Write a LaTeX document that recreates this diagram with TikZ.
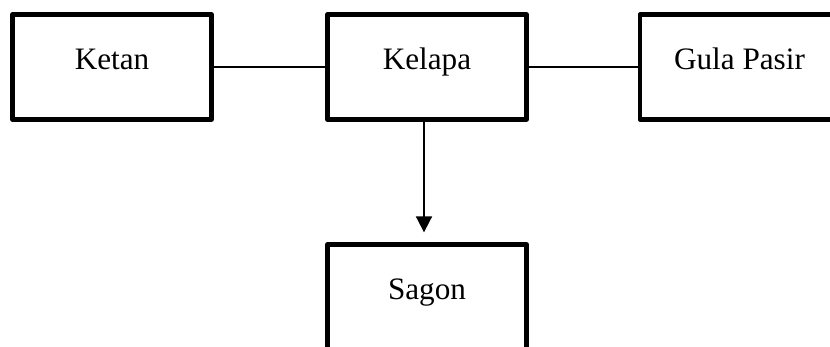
\documentclass[tikz,border=0pt]{standalone}
\usepackage{fontspec}
\setmainfont{Liberation Serif}
\usetikzlibrary{arrows.meta}
\begin{document}
\begin{tikzpicture}[x=0.5pt, y=-0.5pt]
        \tikzstyle{box} = [draw, line width=2.4pt, line join=round, minimum width=99.5pt, minimum height=52.25pt, text height=10.5pt, text depth=8pt, font=\fontsize{15.6}{18}\selectfont]
        \tikzstyle{link} = [line width=0.9pt]

		\clip (0,0) rectangle (830,347);

		\node[box] (ketan) at (112,67) {Ketan};
		\node[box] (kelapa) at (427,67) {Kelapa};
		\node[box] (gula) at (739.5,67) {Gula Pasir};
		\node[box] (sagon) at (427,297) {Sagon};

		\draw[link] (ketan) -- (kelapa);
		\draw[link] (kelapa) -- (gula);
		\draw[link, -{Triangle[length=8pt, width=8pt]}, shorten >=5pt] ([xshift=-1.5pt]kelapa.south) -- ([xshift=-1.5pt]sagon.north);

    \end{tikzpicture}
\end{document}
